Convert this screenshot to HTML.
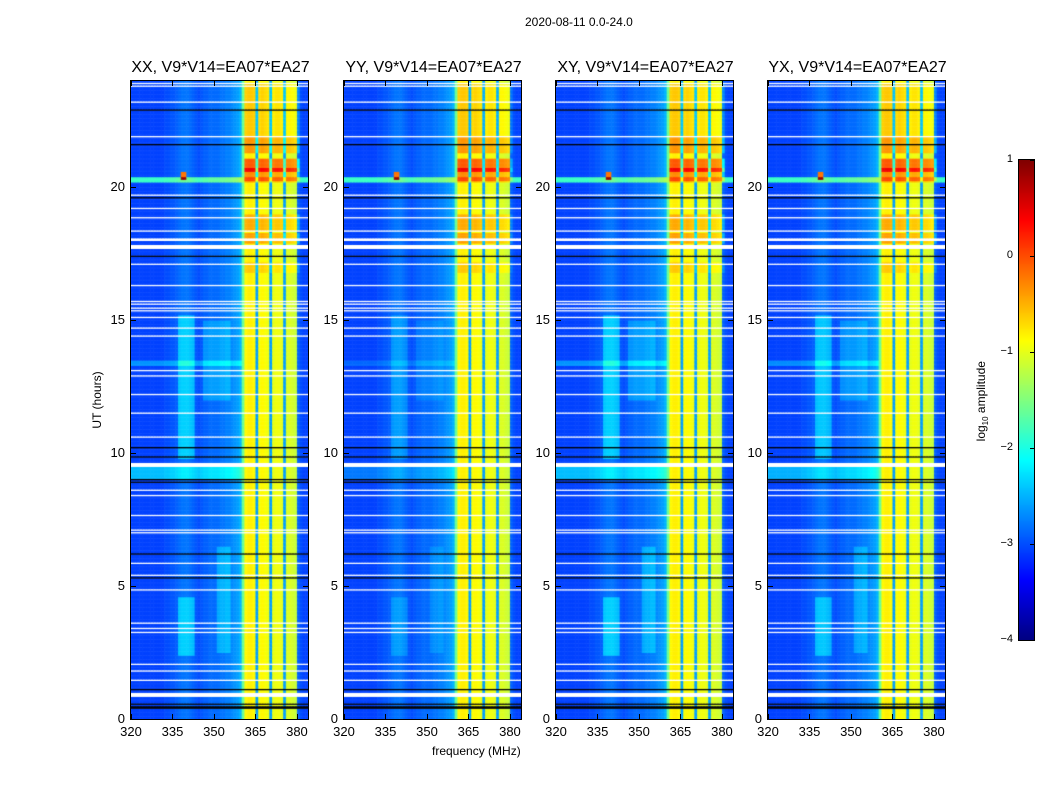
<!DOCTYPE html>
<html><head><meta charset="utf-8"><style>
body{margin:0;background:#fff;font-family:"Liberation Sans",sans-serif;}
#root{position:relative;width:1050px;height:800px;background:#fff;overflow:hidden}
.t{position:absolute;font-size:13px;color:#000;white-space:nowrap}
.pt{position:absolute;font-size:16px;color:#000;white-space:nowrap;transform:translateX(-50%)}
canvas{position:absolute}
.frame{position:absolute;border:1px solid #000;box-sizing:border-box}
</style></head><body>
<div id="root">
<div class="t" style="left:525px;top:15px;font-size:12px">2020-08-11 0.0-24.0</div>
<div class="t" style="left:432px;top:744px;font-size:12px">frequency (MHz)</div>
<div class="t" style="top:393px;transform:rotate(-90deg);transform-origin:center;width:90px;text-align:center;left:52px;font-size:12px">UT (hours)</div>
<canvas id="cb" width="15" height="480" style="left:1019px;top:160px"></canvas>
<div class="frame" style="left:1018px;top:159px;width:17px;height:482px"></div>
<div class="t" style="left:930px;top:393px;transform:rotate(-90deg);width:104px;text-align:center;font-size:12px">log<sub style="font-size:8px">10</sub> amplitude</div>
</div>
<script>
// ---- data ----
const panelTitles=["XX, V9*V14=EA07*EA27","YY, V9*V14=EA07*EA27","XY, V9*V14=EA07*EA27","YX, V9*V14=EA07*EA27"];
const panelLeft=[131,344,556,768];
const featureScale=[1,0.45,1,0.9];
const xTicks=[320,335,350,365,380];
const yTicks=[0,5,10,15,20];
const cbTicks=[1,0,-1,-2,-3,-4];
// baseline spectrum, 1-MHz channels 320..383 (log10 amplitude)
const freqs=[320,321,322,323,324,325,326,327,328,329,330,331,332,333,334,335,336,337,338,339,340,341,342,343,344,345,346,347,348,349,350,351,352,353,354,355,356,357,358,359,360,361,362,363,364,365,366,367,368,369,370,371,372,373,374,375,376,377,378,379,380,381,382,383];
const baseSpec=[-3.05,-3.05,-3.05,-3.05,-3.05,-3.05,-3.05,-3.05,-3.05,-3.05,-3.05,-3.05,-3.0,-3.0,-2.95,-2.95,-2.9,-2.85,-2.8,-2.8,-2.8,-2.85,-2.9,-2.95,-3.0,-2.95,-2.9,-2.9,-2.85,-2.85,-2.85,-2.85,-2.8,-2.8,-2.75,-2.75,-2.7,-2.65,-2.6,-2.5,-1.6,-0.85,-0.8,-0.8,-0.85,-2.6,-0.9,-0.85,-0.9,-0.95,-2.6,-1.0,-0.95,-0.95,-1.0,-2.6,-1.05,-1.05,-1.1,-1.15,-2.9,-3.0,-3.05,-3.05];
// time-frequency events: start hour, end hour, low MHz, high MHz, delta log10
const evT0=[20.2,20.3,20.25,20.6,21.3,21.9,17.9,9.8,2.4,9.05,12.0,2.5,18.4,16.8,13.3];
const evT1=[20.4,20.6,20.75,21.1,21.9,23.9,18.3,15.2,4.6,9.5,15.0,6.5,19.0,17.2,13.5];
const evF0=[320,338,361,361,361,361,361,337,337,320,346,351,361,361,320];
const evF1=[384,340,381,381,381,381,381,343,343,360,356,356,381,381,360];
const evD=[1.2,2.6,0.5,0.75,0.45,0.2,0.4,0.45,0.45,0.6,0.25,0.3,0.35,0.2,0.4];
// flagged (white) and zero (black) time intervals, hours
const whiteT0=[0.85,1.45,1.82,2.05,3.25,3.4,3.58,4.83,5.38,5.85,6.98,7.08,7.58,7.65,8.4,8.58,9.48,15.08,15.33,15.43,15.58,15.68,16.28,17.12,17.18,17.68,18.02,18.33,18.83,19.18,19.68,21.88,23.18,23.78,23.88,10.6,11.5,12.2,12.9,13.1,14.4,14.7];
const whiteT1=[0.98,1.5,1.87,2.1,3.3,3.45,3.63,4.88,5.43,5.9,7.03,7.13,7.62,7.7,8.45,8.63,9.65,15.13,15.38,15.48,15.63,15.73,16.33,17.16,17.22,17.85,18.08,18.38,18.88,19.23,19.73,21.93,23.23,23.83,23.93,10.65,11.55,12.25,12.95,13.15,14.45,14.75];
const blackT0=[0.38,0.55,1.08,5.32,6.22,7.48,8.88,8.98,9.83,10.18,17.38,19.62,21.58,22.88];
const blackT1=[0.48,0.62,1.15,5.37,6.27,7.52,8.95,9.03,9.88,10.23,17.43,19.67,21.63,22.93];

function jet(v){let t=(v+4)/5;t=Math.max(0,Math.min(1,t));
 const c=x=>Math.round(255*Math.max(0,Math.min(1,x)));
 return [c(1.5-Math.abs(4*t-3)),c(1.5-Math.abs(4*t-2)),c(1.5-Math.abs(4*t-1))];}
const root=document.getElementById('root');
const PW=177,PH=638,TOP=81,F0=320,F1=384;
function xS(f){return (f-F0)/(F1-F0)*PW;}
function yS(h){return PH-h/24*PH;}
function inAny(h,a,b){for(let i=0;i<a.length;i++) if(h>=a[i]&&h<b[i]) return true;return false;}
function add(tag,cls,style,text,name){const e=document.createElement(tag);if(cls)e.className=cls;e.style.cssText=style;if(text!==undefined)e.textContent=text;
 
 
 root.appendChild(e);return e;}

panelTitles.forEach((title,p)=>{
 const L=panelLeft[p];
 const cv=document.createElement('canvas');cv.width=PW;cv.height=PH;cv.style.left=L+'px';cv.style.top=TOP+'px';
 
 
 root.appendChild(cv);
 const ctx=cv.getContext('2d');
 const dt=0.05;
 for(let r=0;r<24/dt;r++){
  const h=r*dt+dt/2;
  const y0=yS(r*dt+dt),y1=yS(r*dt);
  if(inAny(h,whiteT0,whiteT1)){ctx.fillStyle='#fff';ctx.fillRect(0,y0,PW,y1-y0+0.5);continue;}
  if(inAny(h,blackT0,blackT1)){ctx.fillStyle='#000';ctx.fillRect(0,y0,PW,y1-y0+0.5);continue;}
  for(let i=0;i<freqs.length;i++){
   const f=freqs[i];let v=baseSpec[i];
   for(let e=0;e<evT0.length;e++){
    if(h>=evT0[e]&&h<evT1[e]&&f>=evF0[e]&&f<evF1[e]){
     const inBand=baseSpec[i]>-2;
     let d=evD[e]*(inBand||e<2?1:featureScale[p]);
     if(inBand && evF0[e]<361) d*=0.3;
     v+=d;}
   }
   if(v>0.9)v=0.9;
   const c=jet(v);ctx.fillStyle=`rgb(${c[0]},${c[1]},${c[2]})`;
   const x0=xS(f),x1=xS(f+1);
   ctx.fillRect(x0,y0,x1-x0+0.5,y1-y0+0.5);
  }
 }
 add('div','frame',`left:${L-1}px;top:${TOP-1}px;width:${PW+2}px;height:${PH+2}px`,undefined,'panel-frame');
 add('div','pt',`left:${L+PW/2+1}px;top:59px`,title,'panel-title');
 xTicks.forEach(t=>{const x=L+xS(t);
  add('div','t',`left:${x}px;top:724px;transform:translateX(-50%)`,String(t),'x-tick-label');
  add('div','',`position:absolute;left:${x}px;top:${TOP+PH-5}px;width:1px;height:5px;background:#000`,undefined,'x-tick');
  add('div','',`position:absolute;left:${x}px;top:${TOP}px;width:1px;height:5px;background:#000`,undefined,'x-tick-top');});
 yTicks.forEach(t=>{const y=TOP+yS(t);
  add('div','t',`left:${L-40}px;width:34px;text-align:right;top:${y-8}px`,String(t),'y-tick-label');
  add('div','',`position:absolute;left:${L}px;top:${y}px;width:5px;height:1px;background:#000`,undefined,'y-tick');
  add('div','',`position:absolute;left:${L+PW-5}px;top:${y}px;width:5px;height:1px;background:#000`,undefined,'y-tick-right');});
});
// colorbar
const cb=document.getElementById('cb').getContext('2d');
for(let y=0;y<480;y++){const v=1-y/480*5;const c=jet(v);cb.fillStyle=`rgb(${c[0]},${c[1]},${c[2]})`;cb.fillRect(0,y,15,1);}
cbTicks.forEach(t=>{const y=160+(1-t)/5*480;
 add('div','t',`left:990px;width:23px;text-align:right;top:${y-7}px;font-size:11px`,t<0?'\u2212'+(-t):String(t),'colorbar-tick-label');
 add('div','',`position:absolute;left:1030px;top:${y}px;width:4px;height:1px;background:#000`,undefined,'colorbar-tick');});
</script>
</body></html>
